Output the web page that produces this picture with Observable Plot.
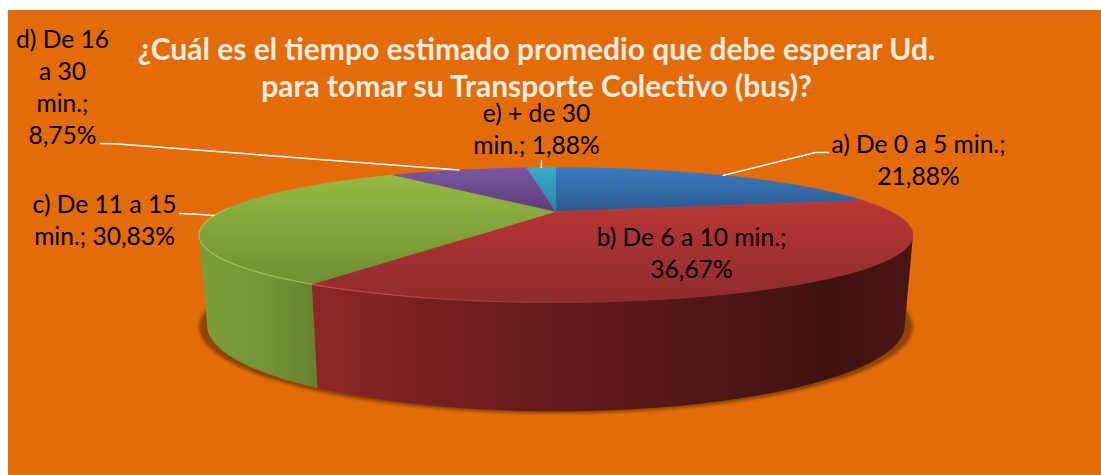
<!DOCTYPE html>
<html lang="es">
<head>
<meta charset="utf-8">
<script src="https://cdn.jsdelivr.net/npm/d3@7"></script>
<script src="https://cdn.jsdelivr.net/npm/@observablehq/plot@0.6"></script>
<style>
html,body{margin:0;padding:0;background:#fff;overflow:hidden}
#chart{position:absolute;left:8px;top:10px}
</style>
</head>
<body>
<div id="chart"></div>
<script>
// ---- data
const categories = ["a) De 0 a 5 min.", "b) De 6 a 10 min.", "c) De 11 a 15 min.", "d) De 16 a 30 min.", "e) + de 30 min."];
const shares = [21.88, 36.67, 30.83, 8.75, 1.88];
const labelTexts = [
  "a) De 0 a 5 min.;\n21,88%",
  "b) De 6 a 10 min.;\n36,67%",
  "c) De 11 a 15\nmin.; 30,83%",
  "d) De 16\na 30\nmin.;\n8,75%",
  "e) + de 30\nmin.; 1,88%"
];
const titleText = "¿Cuál es el tiempo estimado promedio que debe esperar Ud.\npara tomar su Transporte Colectivo (bus)?";

// ---- styles
const topLight = ["#3b7bc1", "#ba3736", "#95b941", "#7b56a1", "#37abcc"];
const topDark  = ["#2c5a90", "#8e2b2c", "#6f8e33", "#5a3e7b", "#2986a3"];

// ---- layout (page pixels)
const W = 1093, H = 465, left = 8, top_ = 10;
const labelX = [918, 691, 104, 62, 536];
const labelY = [158, 251, 218, 85, 127];
const elbowX = [815, null, 193, 114, null];
const elbowY = [152, null, 213.5, 143.3, null];
const endX   = [828, null, 179, 100, 541];
const endY   = [152, null, 213, 143, 160];

// perspective projection of the pie disc
const cx = 555.5, persp = 0.348;
const topFace = {a: 334.7, b: 59.3, y0: 211};
const botFace = {a: 327, b: 75.5, y0: 295};
function project(angle, face, radius = 1) {
  const X = radius * Math.sin(angle), Y = -radius * Math.cos(angle), w = 1 - persp * Y;
  return {x: cx + face.a * X / w, y: face.y0 + face.b * Y / w};
}
function arc(a0, a1, face) {
  const n = Math.max(2, Math.ceil(Math.abs(a1 - a0) / (Math.PI / 180)));
  return d3.range(n + 1).map(i => project(a0 + (a1 - a0) * i / n, face));
}
// the angles at which the disc's edge turns away from the viewer
const silhouette0 = Math.acos(-persp), silhouette1 = 2 * Math.PI - silhouette0;
const total = d3.sum(shares);
let acc = 0;
const slices = shares.map((s, i) => {
  const a0 = acc / total * 2 * Math.PI; acc += s;
  const a1 = acc / total * 2 * Math.PI;
  return {i, name: categories[i], a0, a1, mid: (a0 + a1) / 2};
});

// gradients
const NS = "http://www.w3.org/2000/svg";
function grad(id, attrs, stops) {
  const g = document.createElementNS(NS, "linearGradient");
  g.setAttribute("id", id);
  for (const k in attrs) g.setAttribute(k, attrs[k]);
  for (const [o, c, op] of stops) {
    const s = document.createElementNS(NS, "stop");
    s.setAttribute("offset", o); s.setAttribute("stop-color", c);
    if (op != null) s.setAttribute("stop-opacity", op);
    g.appendChild(s);
  }
  return g;
}
function defsMark() {
  const d = document.createElementNS(NS, "defs");
  slices.forEach(s => d.appendChild(grad("top" + s.i, {x1: 0, y1: 0, x2: 0, y2: 1}, [[0, topLight[s.i]], [1, topDark[s.i]]])));
  const h = {gradientUnits: "userSpaceOnUse", y1: 0, y2: 0};
  d.appendChild(grad("sideRed", {...h, x1: 309 - left, x2: 905 - left},
    [[0, "#8f2828"], [0.2, "#761f1f"], [0.42, "#621a1a"], [0.62, "#531717"], [0.87, "#3f1111"], [1, "#4b1414"]]));
  d.appendChild(grad("sideGreen", {...h, x1: 200 - left, x2: 322 - left},
    [[0, "#7c9e38"], [0.5, "#759637"], [1, "#647f2e"]]));
  d.appendChild(grad("rimRed", {...h, x1: 317 - left, x2: 640 - left},
    [[0, "#d8514f", 0.9], [0.6, "#c84444", 0.45], [1, "#c84444", 0]]));
  return d;
}

const polygon = (pts, opts) => Plot.line(pts, {x: "x", y: "y", stroke: "none", ...opts});

// shadow
const shadow = d3.range(0, 361, 2).map(t => project(t * Math.PI / 180, {a: 334.5, b: 76, y0: 296.5}));

const marks = [
  defsMark,
  polygon(shadow, {fill: "#8f4400", imageFilter: "blur(1.6px)"})
];

// walls of the front slices
[[1, "sideRed"], [2, "sideGreen"]].forEach(([i, id]) => {
  const s = slices[i];
  const a0 = Math.max(s.a0, silhouette0), a1 = Math.min(s.a1, silhouette1);
  const pts = [...arc(a0, a1, topFace), ...arc(a1, a0, botFace)];
  marks.push(polygon(pts, {fill: `url(#${id})`}));
});

// top faces
slices.forEach(s => {
  const pts = [project(0, topFace, 0), ...arc(s.a0, s.a1, topFace)];
  marks.push(polygon(pts, {fill: `url(#top${s.i})`, stroke: `url(#top${s.i})`, strokeWidth: 0.5}));
});

// rim highlights
marks.push(Plot.line(arc(slices[2].a0, slices[2].mid + 0.12, topFace), {x: "x", y: "y", stroke: "#a0c650", strokeWidth: 1.4, strokeOpacity: 0.85}));
marks.push(Plot.line(arc(slices[1].a1, slices[1].a1 - 0.9, topFace), {x: "x", y: "y", stroke: "url(#rimRed)", strokeWidth: 1.3}));

// leader lines, from the middle of each slice's outer rim
slices.forEach(s => {
  if (endX[s.i] == null) return;
  const p = project(s.mid, topFace);
  const pts = [p];
  if (elbowX[s.i] != null) pts.push({x: elbowX[s.i], y: elbowY[s.i]});
  pts.push({x: endX[s.i], y: endY[s.i]});
  marks.push(Plot.line(pts, {x: "x", y: "y", stroke: "#ffffff", strokeWidth: 1.5}));
});

// labels
marks.push(Plot.text(labelTexts, {
  x: (d, i) => labelX[i], y: (d, i) => labelY[i],
  text: d => d, fontFamily: "Lato", fontSize: 24.6, lineHeight: 1.3, fill: "#000000", textAnchor: "middle"
}));
marks.push(Plot.text([titleText], {
  x: () => 536, y: () => 66.5,
  text: d => d, fontFamily: "Lato", fontWeight: 700, fontSize: 30, lineHeight: 1.23, fill: "#f3ece2", textAnchor: "middle"
}));

const chart = Plot.plot({
  width: W, height: H,
  marginTop: 0, marginRight: 0, marginBottom: 0, marginLeft: 0,
  x: {domain: [left, left + W], range: [0, W], axis: null},
  y: {domain: [top_, top_ + H], range: [0, H], axis: null},
  style: {background: "#e36c09", display: "block"},
  marks
});
document.getElementById("chart").appendChild(chart);
</script>
</body>
</html>
